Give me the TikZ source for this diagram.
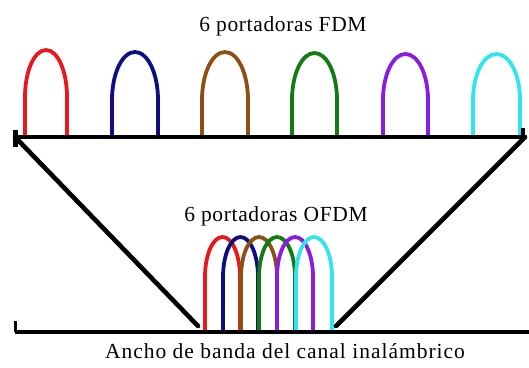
\documentclass[tikz,border=0pt]{standalone}
\usepackage{fontspec}
\newfontfamily\lblfont[LetterSpace=3]{Liberation Serif}
\newfontfamily\lblwidefont[LetterSpace=4.6]{Liberation Serif}
\definecolor{cred}{RGB}{232,24,28}
\definecolor{cnavy}{RGB}{14,14,128}
\definecolor{cbrown}{RGB}{140,80,20}
\definecolor{cgreen}{RGB}{20,122,20}
\definecolor{cpurple}{RGB}{138,28,224}
\definecolor{ccyan}{RGB}{50,228,240}
\tikzset{
  axisline/.style={line width=4.2pt, black},
  diagline/.style={line width=4.6pt, black, line cap=round},
  carrierline/.style={line width=3.8pt, line join=round},
  lbl/.style={font=\lblfont\fontsize{21.5}{25}\selectfont, anchor=base, inner sep=0pt},
  lblwide/.style={font=\lblwidefont\fontsize{21.5}{25}\selectfont, anchor=base, inner sep=0pt}
}
% \arch{color}{left}{right}{top}{mid}{bottom}
\newcommand{\arch}[6]{%
  \draw[carrierline, #1] (#2,#6) -- (#2,#5)
    .. controls (#2,{#4+0.45*(#5-#4)}) and ({#2+0.22*(#3-#2)},#4) .. ({(#2+#3)/2},#4)
    .. controls ({#3-0.22*(#3-#2)},#4) and (#3,{#4+0.45*(#5-#4)}) .. (#3,#5)
    -- (#3,#6);}
\begin{document}
\begin{tikzpicture}[x=1pt,y=-1pt]
\useasboundingbox (0,0) rectangle (529,367);
% labels
\node[lbl] (tFDM) at (283,31) {6 portadoras FDM};
\node[lbl] (tOFDM) at (276,221) {6 portadoras OFDM};
\node[lblwide] (tBW) at (285,358) {Ancho de banda del canal inalámbrico};
% FDM carriers
\arch{cred}{25}{67}{50}{97}{137}
\arch{cnavy}{112}{158}{52}{100}{137}
\arch{cbrown}{202}{248}{52}{100}{137}
\arch{cgreen}{292}{337}{53}{100}{137}
\arch{cpurple}{383}{428}{54}{100}{137}
\arch{ccyan}{473}{520}{54}{100}{137}
% OFDM carriers
\arch{cred}{205}{240}{237}{277}{332}
\arch{cnavy}{223}{258}{237}{277}{332}
\arch{cbrown}{241}{277}{237}{277}{332}
\arch{cgreen}{259}{295}{237}{277}{332}
\arch{cpurple}{277}{313}{237}{277}{332}
\arch{ccyan}{296}{332}{237}{277}{332}
% axes
\coordinate (TL) at (15,137);
\coordinate (TR) at (525,137);
\coordinate (BL) at (15,332);
\coordinate (BR) at (529,332);
\coordinate (DL) at (198,326);
\coordinate (DR) at (336,326);
\draw[axisline] (TL) -- (TR);
\draw[axisline] (BL) -- (BR);
\draw[line width=5pt] (15,130) -- (15,147);
\draw[line width=4pt] (523,128) -- (523,140);
\draw[line width=3pt] (15.5,321) -- (15.5,332);
\draw[diagline] (TL) -- (DL);
\draw[diagline] (TR) -- (DR);
\end{tikzpicture}
\end{document}
